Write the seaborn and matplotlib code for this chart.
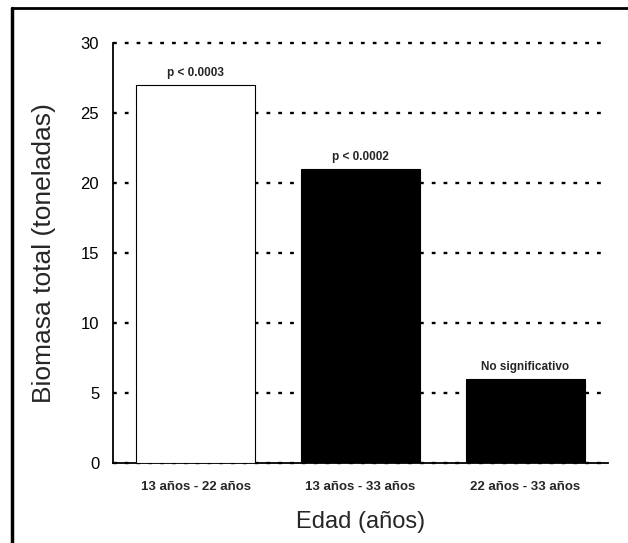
import matplotlib
matplotlib.use("Agg")
import matplotlib.pyplot as plt
import seaborn as sns
import pandas as pd
from matplotlib.lines import Line2D

categories = ["13 años - 22 años", "13 años - 33 años", "22 años - 33 años"]
biomasa = [27, 21, 6]
annotations = ["p < 0.0003", "p < 0.0002", "No significativo"]
bar_colors = ["white", "black", "black"]
y_ticks = [0, 5, 10, 15, 20, 25, 30]

sns.set_style("white")
plt.rcParams["font.family"] = ["Liberation Sans", "DejaVu Sans"]

df = pd.DataFrame({"Edad": categories, "Biomasa": biomasa})

fig = plt.figure(figsize=(6.28, 5.43), dpi=100)
ax = fig.add_axes([0.18, 0.1473, 0.968 - 0.18, 0.9208 - 0.1473])

sns.barplot(data=df, x="Edad", y="Biomasa", hue="Edad", palette=bar_colors,
            width=0.72, edgecolor="black", linewidth=0.8, legend=False,
            ax=ax, zorder=3)

ax.set_xlim(-0.5, 2.5)
ax.set_ylim(0, 30)
ax.set_yticks(y_ticks)
ax.set_yticklabels([str(v) for v in y_ticks], fontsize=12)
ax.yaxis.grid(True, linestyle=(0, (1.6, 3.4)), linewidth=1.7, color="black", zorder=0)
ax.xaxis.grid(False)
ax.set_axisbelow(True)
for gl in ax.get_ygridlines():
    gl.set_clip_on(False)

for s in ["top", "right"]:
    ax.spines[s].set_visible(False)
for s in ["left", "bottom"]:
    ax.spines[s].set_color("black")
    ax.spines[s].set_linewidth(1.3)

ax.tick_params(axis="y", direction="inout", length=14, width=1.3, pad=3, colors="black")
ax.set_xticks([0, 1, 2])
ax.set_xticklabels(categories, fontsize=9.5, fontweight="bold")
ax.tick_params(axis="x", length=0, pad=13)
ax.set_xticks([0.5, 1.5, 2.5], minor=True)
ax.tick_params(axis="x", which="minor", direction="inout", length=15, width=1.6, colors="black")

for i, (v, t) in enumerate(zip(biomasa, annotations)):
    ax.text(i, v + 0.45, t, ha="center", va="bottom", fontsize=8.5, fontweight="bold")

ax.set_ylabel("Biomasa total (toneladas)", fontsize=19, labelpad=18)
ax.set_xlabel("Edad (años)", fontsize=17, labelpad=13)

# figure frame (left and top edges)
fig.add_artist(Line2D([12 / 628, 12 / 628], [0, 1 - 8 / 543], transform=fig.transFigure,
                      color="black", linewidth=2.5))
fig.add_artist(Line2D([12 / 628, 1], [1 - 8 / 543, 1 - 8 / 543], transform=fig.transFigure,
                      color="black", linewidth=2.0))

fig.savefig("out.png", dpi=100)
